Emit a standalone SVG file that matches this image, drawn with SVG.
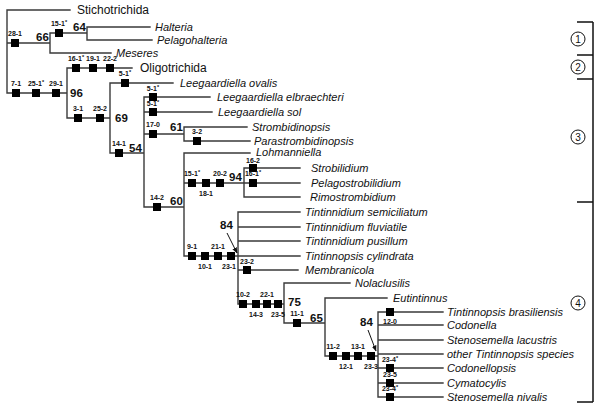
<svg xmlns="http://www.w3.org/2000/svg" width="600" height="408" viewBox="0 0 600 408">
<defs>
<style>
.ln{stroke:#3a3a3a;stroke-width:1.4;fill:none;stroke-linecap:square}
.sq{fill:#000}
.tx{font-family:"Liberation Sans",Arial,sans-serif;font-size:11px;font-style:italic;fill:#111}
.tn{font-family:"Liberation Sans",Arial,sans-serif;font-size:12px;fill:#111}
.ch{font-family:"Liberation Sans",Arial,sans-serif;font-size:7px;font-weight:bold;fill:#111;text-anchor:middle}
.bs{font-family:"Liberation Sans",Arial,sans-serif;font-size:11.5px;font-weight:bold;fill:#111}
.st{font-size:5.5px}
.br{stroke:#111;stroke-width:1.5;fill:none}
.cc{stroke:#111;stroke-width:1;fill:#fff}
.cn{font-family:"Liberation Sans",Arial,sans-serif;font-size:10px;fill:#111;text-anchor:middle}
</style>
<marker id="ah" viewBox="0 0 10 10" refX="9" refY="5" markerWidth="6" markerHeight="6" orient="auto">
<path d="M0,1 L10,5 L0,9 z" fill="#111"/>
</marker>
</defs>
<rect width="600" height="408" fill="#fff"/>

<g id="connectors">
<path class="ln" d="M7,10V93 M7,10H70 M7,43H50 M50,33V53 M50,33H87 M87,27V40 M87,27H150 M87,40H152 M50,53H111
M7,93H67 M67,68V118 M67,68H132 M67,118H110 M110,83V153 M110,83H173 M110,153H144 M144,97V207
M144,97H210 M144,112H212 M144,134H184 M184,127V141 M184,127H247 M184,141H250
M144,207H184 M184,153V256 M184,153H250 M184,183H244 M244,168V197 M244,168H300 M244,183H300 M244,197H300
M184,256H238 M238,212V304 M238,212H300 M238,227H300 M238,241H300 M238,256H300 M238,270H298
M238,304H284 M284,283V323 M284,283H350 M284,323H325 M325,298V356 M325,298H387 M325,356H378
M378,312V397 M378,312H443 M378,325H443 M378,340H443 M378,354H443 M378,368H443 M378,383H443 M378,397H443"/>
<line x1="227" y1="233" x2="237" y2="253" stroke="#111" stroke-width="1" marker-end="url(#ah)"/>
<line x1="368" y1="330" x2="376" y2="351" stroke="#111" stroke-width="1" marker-end="url(#ah)"/>
</g>

<g id="characters">
<g class="sq">
<rect x="11" y="39" width="8" height="8"/>
<rect x="55" y="29" width="8" height="8"/>
<rect x="12" y="89" width="8" height="8"/>
<rect x="32" y="89" width="8" height="8"/>
<rect x="52" y="89" width="8" height="8"/>
<rect x="72" y="64" width="8" height="8"/>
<rect x="89" y="64" width="8" height="8"/>
<rect x="106" y="64" width="8" height="8"/>
<rect x="74" y="114" width="8" height="8"/>
<rect x="96" y="114" width="8" height="8"/>
<rect x="121" y="79" width="8" height="8"/>
<rect x="115" y="149" width="8" height="8"/>
<rect x="149" y="93" width="8" height="8"/>
<rect x="149" y="108" width="8" height="8"/>
<rect x="149" y="130" width="8" height="8"/>
<rect x="193" y="137" width="8" height="8"/>
<rect x="153" y="203" width="8" height="8"/>
<rect x="188" y="179" width="8" height="8"/>
<rect x="202" y="179" width="8" height="8"/>
<rect x="216" y="179" width="8" height="8"/>
<rect x="249" y="164" width="8" height="8"/>
<rect x="249" y="179" width="8" height="8"/>
<rect x="188" y="252" width="8" height="8"/>
<rect x="201" y="252" width="8" height="8"/>
<rect x="214" y="252" width="8" height="8"/>
<rect x="227" y="252" width="8" height="8"/>
<rect x="243" y="266" width="8" height="8"/>
<rect x="239" y="300" width="8" height="8"/>
<rect x="252" y="300" width="8" height="8"/>
<rect x="263" y="300" width="8" height="8"/>
<rect x="274" y="300" width="8" height="8"/>
<rect x="293" y="319" width="8" height="8"/>
<rect x="329" y="352" width="8" height="8"/>
<rect x="342" y="352" width="8" height="8"/>
<rect x="354" y="352" width="8" height="8"/>
<rect x="367" y="352" width="8" height="8"/>
<rect x="386" y="308" width="8" height="8"/>
<rect x="386" y="364" width="8" height="8"/>
<rect x="386" y="379" width="8" height="8"/>
<rect x="386" y="393" width="8" height="8"/>
</g>
<text class="ch" x="15" y="36">28-1</text>
<text class="ch" x="59" y="26">15-1<tspan class="st" dy="-2.5">*</tspan></text>
<text class="ch" x="16" y="86">7-1</text>
<text class="ch" x="36" y="86">25-1<tspan class="st" dy="-2.5">*</tspan></text>
<text class="ch" x="56" y="86">29-1</text>
<text class="ch" x="76" y="61">16-1<tspan class="st" dy="-2.5">*</tspan></text>
<text class="ch" x="93" y="61">19-1</text>
<text class="ch" x="110" y="61">22-2</text>
<text class="ch" x="78" y="111">3-1</text>
<text class="ch" x="100" y="111">25-2</text>
<text class="ch" x="125" y="76">5-1<tspan class="st" dy="-2.5">*</tspan></text>
<text class="ch" x="119" y="146">14-1</text>
<text class="ch" x="153" y="91">5-1<tspan class="st" dy="-2.5">*</tspan></text>
<text class="ch" x="153" y="106">5-1<tspan class="st" dy="-2.5">*</tspan></text>
<text class="ch" x="153" y="127">17-0</text>
<text class="ch" x="197" y="134">3-2</text>
<text class="ch" x="157" y="200">14-2</text>
<text class="ch" x="192" y="176">15-1<tspan class="st" dy="-2.5">*</tspan></text>
<text class="ch" x="206" y="196">18-1</text>
<text class="ch" x="220" y="176">20-2</text>
<text class="ch" x="253" y="162.5">16-2</text>
<text class="ch" x="253" y="176">16-1<tspan class="st" dy="-2.5">*</tspan></text>
<text class="ch" x="192" y="249">9-1</text>
<text class="ch" x="205" y="269">10-1</text>
<text class="ch" x="218" y="249">21-1</text>
<text class="ch" x="229" y="269">23-1</text>
<text class="ch" x="247" y="264">23-2</text>
<text class="ch" x="243" y="297">10-2</text>
<text class="ch" x="256" y="317">14-3</text>
<text class="ch" x="267" y="297">22-1</text>
<text class="ch" x="278" y="317">23-5</text>
<text class="ch" x="297" y="316">11-1</text>
<text class="ch" x="333" y="349">11-2</text>
<text class="ch" x="346" y="369">12-1</text>
<text class="ch" x="358" y="349">13-1</text>
<text class="ch" x="371" y="369">23-3</text>
<text class="ch" x="390" y="324">12-0</text>
<text class="ch" x="390" y="362">23-4<tspan class="st" dy="-2.5">*</tspan></text>
<text class="ch" x="390" y="377">23-5</text>
<text class="ch" x="390" y="391">23-4<tspan class="st" dy="-2.5">*</tspan></text>
</g>

<g id="support">
<text class="bs" x="36" y="41">66</text>
<text class="bs" x="73" y="31">64</text>
<text class="bs" x="70" y="97">96</text>
<text class="bs" x="115" y="122">69</text>
<text class="bs" x="129" y="152">54</text>
<text class="bs" x="170" y="131">61</text>
<text class="bs" x="170" y="205">60</text>
<text class="bs" x="229" y="181">94</text>
<text class="bs" x="220" y="229">84</text>
<text class="bs" x="288" y="306">75</text>
<text class="bs" x="310" y="322">65</text>
<text class="bs" x="360" y="326">84</text>
</g>

<g id="stichotrichida"><text class="tn" x="77" y="14">Stichotrichida</text></g>
<g id="halteria"><text class="tx" x="155" y="31">Halteria</text></g>
<g id="pelagohalteria"><text class="tx" x="157" y="44">Pelagohalteria</text></g>
<g id="meseres"><text class="tx" x="116" y="57">Meseres</text></g>
<g id="oligotrichida"><text class="tn" x="140" y="72">Oligotrichida</text></g>
<g id="l-ovalis"><text class="tx" x="180" y="87">Leegaardiella ovalis</text></g>
<g id="l-elbraechteri"><text class="tx" x="217" y="101">Leegaardiella elbraechteri</text></g>
<g id="l-sol"><text class="tx" x="218" y="116">Leegaardiella sol</text></g>
<g id="strombidinopsis"><text class="tx" x="252" y="131">Strombidinopsis</text></g>
<g id="parastrombidinopsis"><text class="tx" x="254" y="145">Parastrombidinopsis</text></g>
<g id="lohmanniella"><text class="tx" x="256" y="156">Lohmanniella</text></g>
<g id="strobilidium"><text class="tx" x="311" y="172">Strobilidium</text></g>
<g id="pelagostrobilidium"><text class="tx" x="311" y="187">Pelagostrobilidium</text></g>
<g id="rimostrombidium"><text class="tx" x="310" y="201">Rimostrombidium</text></g>
<g id="t-semiciliatum"><text class="tx" x="305" y="216">Tintinnidium semiciliatum</text></g>
<g id="t-fluviatile"><text class="tx" x="305" y="231">Tintinnidium fluviatile</text></g>
<g id="t-pusillum"><text class="tx" x="305" y="245">Tintinnidium pusillum</text></g>
<g id="t-cylindrata"><text class="tx" x="305" y="260">Tintinnopsis cylindrata</text></g>
<g id="membranicola"><text class="tx" x="305" y="274">Membranicola</text></g>
<g id="nolaclusilis"><text class="tx" x="355" y="287">Nolaclusilis</text></g>
<g id="eutintinnus"><text class="tx" x="393" y="302">Eutintinnus</text></g>
<g id="t-brasiliensis"><text class="tx" x="447" y="316">Tintinnopsis brasiliensis</text></g>
<g id="codonella"><text class="tx" x="447" y="329">Codonella</text></g>
<g id="s-lacustris"><text class="tx" x="447" y="344">Stenosemella lacustris</text></g>
<g id="other-tintinnopsis"><text class="tx" x="447" y="358" font-style="normal">other <tspan font-style="italic">Tintinnopsis</tspan> species</text></g>
<g id="codonellopsis"><text class="tx" x="447" y="372">Codonellopsis</text></g>
<g id="cymatocylis"><text class="tx" x="447" y="387">Cymatocylis</text></g>
<g id="s-nivalis"><text class="tx" x="447" y="401">Stenosemella nivalis</text></g>

<g id="groups">
<path class="br" d="M593,22V402 M577,22H593 M577,55H593 M577,79H593 M577,202H593 M577,402H593"/>
<g id="group1"><circle class="cc" cx="578" cy="39" r="7"/><text class="cn" x="578" y="42.5">1</text></g>
<g id="group2"><circle class="cc" cx="578" cy="67" r="7"/><text class="cn" x="578" y="70.5">2</text></g>
<g id="group3"><circle class="cc" cx="578" cy="137" r="7"/><text class="cn" x="578" y="140.5">3</text></g>
<g id="group4"><circle class="cc" cx="578" cy="303" r="7"/><text class="cn" x="578" y="306.5">4</text></g>
</g>
</svg>
